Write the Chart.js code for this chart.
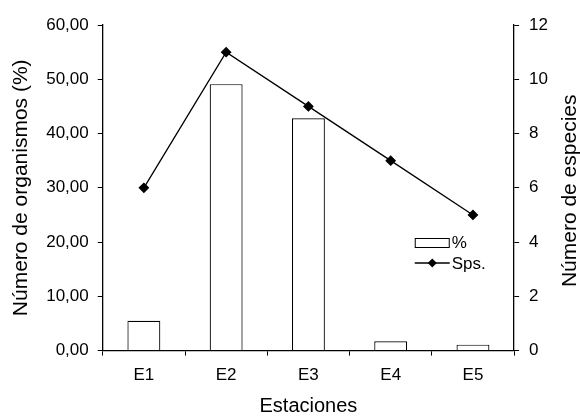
<!DOCTYPE html>
<html>
<head>
<meta charset="utf-8">
<script src="https://cdn.jsdelivr.net/npm/chart.js@4.4.0/dist/chart.umd.min.js"></script>
<style>
  html, body { margin: 0; padding: 0; background: #fff; }
  #wrap { width: 580px; height: 416px; }
</style>
</head>
<body>
<div id="wrap"><canvas id="grafico" width="580" height="416"></canvas></div>
<script>
// Datos
const estaciones = ['E1', 'E2', 'E3', 'E4', 'E5'];
const porcentajeOrganismos = [5.5, 49.1, 42.8, 1.7, 1.1];
const numeroEspecies = [6, 11, 9, 7, 5];
const ticksIzq = [0, 10, 20, 30, 40, 50, 60];
const ticksDer = [0, 2, 4, 6, 8, 10, 12];

const fuente = "'Liberation Sans', Arial, sans-serif";
Chart.defaults.font.family = fuente;
Chart.defaults.color = '#000';

// Leyenda dibujada dentro del área del gráfico
const leyendaInterna = {
    id: 'leyendaInterna',
    afterDraw(chart) {
        const ctx = chart.ctx;
        const a = chart.chartArea;
        const x0 = a.left + 312;
        const y1 = a.top + 217;
        const y2 = a.top + 238;
        ctx.save();
        ctx.strokeStyle = '#000';
        ctx.lineWidth = 1;
        ctx.fillStyle = '#fff';
        ctx.fillRect(x0, y1 - 4, 34, 9);
        ctx.strokeRect(x0 + 0.5, y1 - 4 + 0.5, 34, 9);
        ctx.lineWidth = 1.3;
        ctx.beginPath();
        ctx.moveTo(x0, y2);
        ctx.lineTo(x0 + 35, y2);
        ctx.stroke();
        ctx.fillStyle = '#000';
        ctx.beginPath();
        const cx = x0 + 17.5;
        ctx.moveTo(cx, y2 - 4.5);
        ctx.lineTo(cx + 4.5, y2);
        ctx.lineTo(cx, y2 + 4.5);
        ctx.lineTo(cx - 4.5, y2);
        ctx.closePath();
        ctx.fill();
        ctx.font = '17px ' + fuente;
        ctx.textBaseline = 'middle';
        ctx.fillText('%', x0 + 37, y1 + 1);
        ctx.fillText('Sps.', x0 + 37, y2 + 1);
        ctx.restore();
    }
};

// Título del eje derecho, leído de abajo hacia arriba como en el original
const tituloDerecho = {
    id: 'tituloDerecho',
    afterDraw(chart) {
        const ctx = chart.ctx;
        const a = chart.chartArea;
        ctx.save();
        ctx.translate(570, (a.top + a.bottom) / 2 + 3);
        ctx.rotate(-Math.PI / 2);
        ctx.font = '21px ' + fuente;
        ctx.fillStyle = '#000';
        ctx.textAlign = 'center';
        ctx.textBaseline = 'middle';
        ctx.fillText('Número de especies', 0, 0);
        ctx.restore();
    }
};

const formatoComa = v => Number(v).toFixed(2).replace('.', ',');

new Chart(document.getElementById('grafico'), {
    type: 'bar',
    data: {
        labels: estaciones,
        datasets: [
            {
                type: 'line',
                label: 'Sps.',
                data: numeroEspecies,
                yAxisID: 'yDer',
                borderColor: '#000',
                backgroundColor: '#000',
                borderWidth: 1.3,
                pointStyle: 'rectRot',
                pointRadius: 4.5,
                pointBackgroundColor: '#000',
                tension: 0,
                order: 0
            },
            {
                type: 'bar',
                label: '%',
                data: porcentajeOrganismos,
                yAxisID: 'yIzq',
                backgroundColor: '#fff',
                borderColor: '#000',
                borderWidth: 1.2,
                categoryPercentage: 1,
                barPercentage: 0.4,
                order: 1
            }
        ]
    },
    options: {
        responsive: false,
        animation: false,
        layout: { padding: { top: 25, right: 22, left: 0, bottom: 0 } },
        plugins: {
            legend: { display: false },
            tooltip: { enabled: false }
        },
        scales: {
            x: {
                offset: true,
                grid: {
                    offset: true,
                    drawOnChartArea: false,
                    tickLength: 5,
                    color: '#000'
                },
                border: { color: '#000', width: 1.3 },
                ticks: { font: { size: 17 }, padding: 10 },
                title: {
                    display: true,
                    text: 'Estaciones',
                    font: { size: 20, lineHeight: 1 },
                    padding: { top: 0, bottom: 0 }
                }
            },
            yIzq: {
                position: 'left',
                min: 0,
                max: 60,
                afterBuildTicks: s => { s.ticks = ticksIzq.map(v => ({ value: v })); },
                grid: { drawOnChartArea: false, tickLength: 5, color: '#000' },
                border: { color: '#000', width: 1.3 },
                ticks: {
                    font: { size: 17 },
                    padding: 9,
                    callback: v => formatoComa(v)
                },
                title: {
                    display: true,
                    text: 'Número de organismos (%)',
                    font: { size: 21 },
                    padding: { top: 9, bottom: 3 }
                }
            },
            yDer: {
                position: 'right',
                min: 0,
                max: 12,
                afterBuildTicks: s => { s.ticks = ticksDer.map(v => ({ value: v })); },
                grid: { drawOnChartArea: false, tickLength: 5, color: '#000' },
                border: { color: '#000', width: 1.3 },
                ticks: { font: { size: 17 }, padding: 10 }
            }
        }
    },
    plugins: [leyendaInterna, tituloDerecho]
});
</script>
</body>
</html>
